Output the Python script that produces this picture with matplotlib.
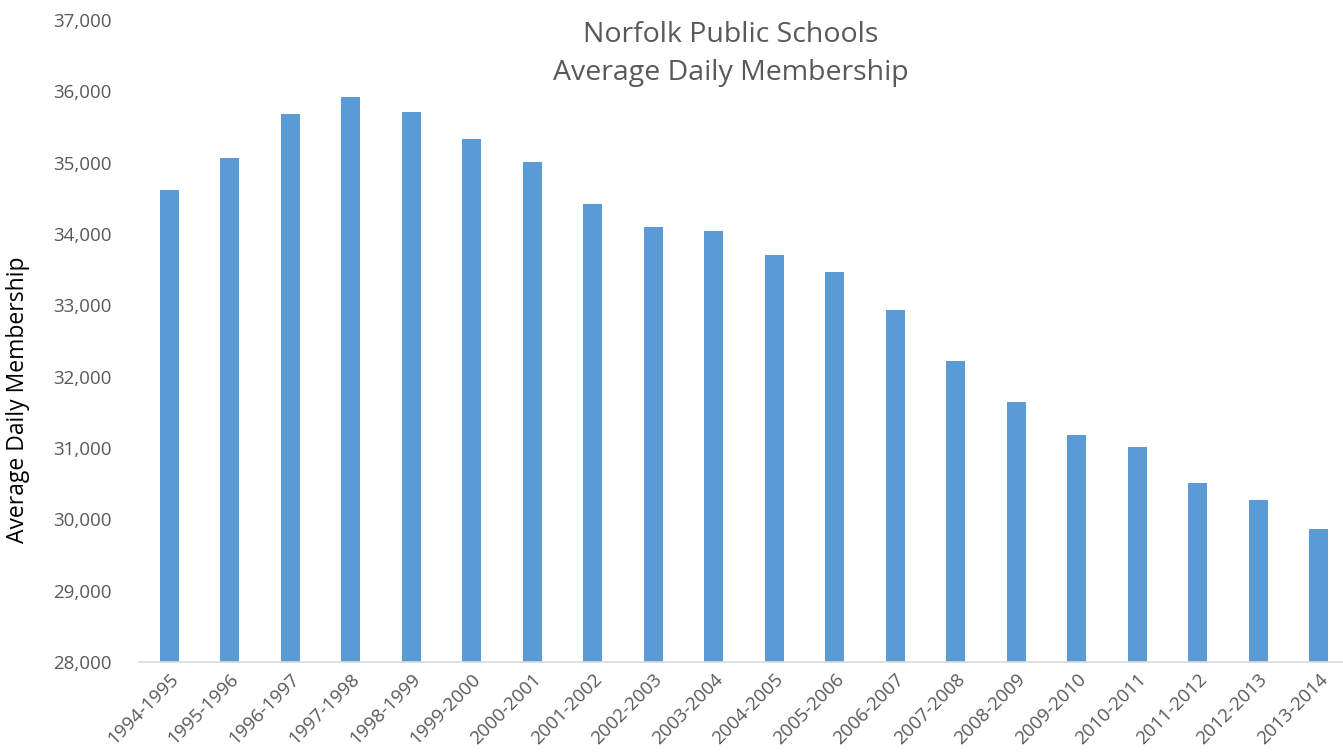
import matplotlib
matplotlib.use("Agg")
import matplotlib.pyplot as plt
from matplotlib.ticker import FuncFormatter

years = ["1994-1995", "1995-1996", "1996-1997", "1997-1998", "1998-1999",
         "1999-2000", "2000-2001", "2001-2002", "2002-2003", "2003-2004",
         "2004-2005", "2005-2006", "2006-2007", "2007-2008", "2008-2009",
         "2009-2010", "2010-2011", "2011-2012", "2012-2013", "2013-2014"]
membership = [34613, 35066, 35678, 35925, 35706, 35332, 35005, 34417, 34098, 34038,
              33710, 33472, 32931, 32224, 31645, 31178, 31018, 30505, 30267, 29860]
y_ticks = [28000, 29000, 30000, 31000, 32000, 33000, 34000, 35000, 36000, 37000]

plt.rcParams['font.family'] = ['Open Sans', 'DejaVu Sans']

fig = plt.figure(figsize=(13.43, 7.56), dpi=100)
ax = fig.add_axes([139/1343, 94/756, 1210/1343, 642/756])

x = list(range(len(years)))
ax.bar(x, membership, width=0.32, color="#5b9bd5", zorder=2)
ax.set_xlim(-0.5, len(years) - 0.5)
ax.set_ylim(28000, 37000)
ax.set_yticks(y_ticks)
ax.yaxis.set_major_formatter(FuncFormatter(lambda v, p: f"{int(v):,}"))
ax.set_xticks(x)
ax.set_xticklabels(years, rotation=45, ha='right', rotation_mode='anchor')

for s in ['top', 'right', 'left']:
    ax.spines[s].set_visible(False)
ax.spines['bottom'].set_color("#d9d9d9")
ax.spines['bottom'].set_linewidth(1.2)
ax.tick_params(axis='both', length=0, colors="#595959", labelsize=13.5)
ax.tick_params(axis='y', pad=20)
ax.tick_params(axis='x', pad=6)

fig.text(731/1343, 1 - 54/756, "Norfolk Public Schools\nAverage Daily Membership",
         ha='center', va='center', fontsize=20.5, color="#595959", linespacing=1.5)
fig.text(18/1343, 1 - 400/756, "Average Daily Membership", rotation=90,
         ha='center', va='center', fontsize=16.5, color="black")

fig.savefig("out.png", dpi=100)
